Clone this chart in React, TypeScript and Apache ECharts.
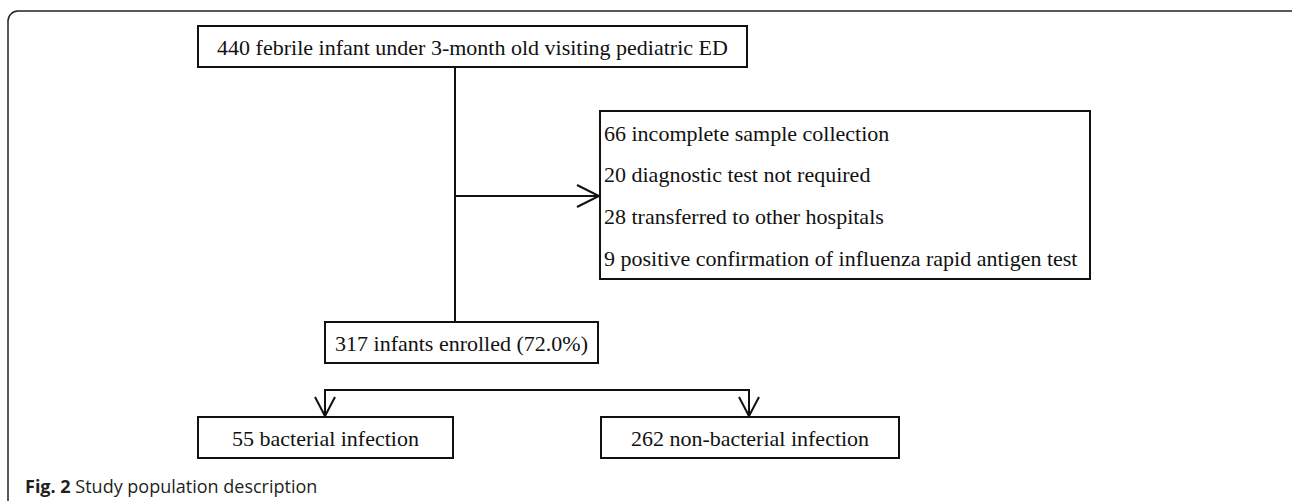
import React, { useEffect, useRef } from "react";
import * as echarts from "echarts";

const topLabel = "440 febrile infant under 3-month old visiting pediatric ED";
const exclusionLabels = [
  "66 incomplete sample collection",
  "20 diagnostic test not required",
  "28 transferred to other hospitals",
  "9 positive confirmation of influenza rapid antigen test",
];
const enrolledLabel = "317 infants enrolled (72.0%)";
const outcomeLabels = ["55 bacterial infection", "262 non-bacterial infection"];
const captionBold = "Fig. 2";
const captionText = " Study population description";

const SERIF = '22px "Liberation Serif", "Times New Roman", serif';
const INK = "#111";

function box(x: number, y: number, w: number, h: number) {
  return {
    type: "rect",
    shape: { x, y, width: w, height: h },
    style: { fill: "#fff", stroke: INK, lineWidth: 2 },
  };
}
function centerText(text: string, x: number, y: number) {
  return {
    type: "text",
    style: { text, x, y, font: SERIF, fill: INK, align: "center", verticalAlign: "middle" },
  };
}
function leftText(text: string, x: number, y: number) {
  return {
    type: "text",
    style: { text, x, y, font: SERIF, fill: INK, align: "left", verticalAlign: "middle" },
  };
}
function line(points: number[][]) {
  return {
    type: "polyline",
    shape: { points },
    style: { fill: "none", stroke: INK, lineWidth: 2 },
  };
}

export default function App() {
  const ref = useRef<HTMLDivElement>(null);
  useEffect(() => {
    if (!ref.current) return;
    const chart = echarts.init(ref.current, null, { renderer: "svg" });
    const elements: any[] = [];
    // outer frame
    elements.push({
      type: "rect",
      shape: { x: 8, y: 11, width: 1300, height: 620, r: 10 },
      style: { fill: "none", stroke: "#222", lineWidth: 1.5 },
    });
    // top box
    elements.push(box(198, 26, 549, 41));
    elements.push(centerText(topLabel, 472.5, 47));
    // main vertical line
    elements.push(line([[455, 67], [455, 322]]));
    // branch to exclusion box
    elements.push(line([[455, 196], [599, 196]]));
    elements.push(line([[577, 185], [599, 196], [577, 207]]));
    // exclusion box
    elements.push(box(600, 111, 490, 168));
    exclusionLabels.forEach((t, i) => {
      elements.push(leftText(t, 604, 133 + i * 41.7));
    });
    // enrolled box
    elements.push(box(325, 322, 273, 41));
    elements.push(centerText(enrolledLabel, 461.5, 343));
    // split
    elements.push(line([[325, 416], [325, 390], [749, 390], [749, 416]]));
    elements.push(line([[315, 397], [325, 416], [335, 397]]));
    elements.push(line([[739, 397], [749, 416], [759, 397]]));
    // outcome boxes
    elements.push(box(198, 417, 255, 41));
    elements.push(centerText(outcomeLabels[0], 325.5, 438));
    elements.push(box(601, 417, 298, 41));
    elements.push(centerText(outcomeLabels[1], 750, 438));
    // caption
    elements.push({
      type: "text",
      style: {
        text: "{b|" + captionBold + "}{r|" + captionText + "}",
        x: 25,
        y: 486,
        fill: "#231f20",
        verticalAlign: "middle",
        rich: {
          b: { fontWeight: "bold", fontSize: 18, fontFamily: '"Open Sans", sans-serif', fill: "#231f20" },
          r: { fontWeight: "normal", fontSize: 18, fontFamily: '"Open Sans", sans-serif', fill: "#231f20" },
        },
      },
    });
    chart.setOption({ animation: false, graphic: { elements } });
    return () => chart.dispose();
  }, []);
  return (
    <div
      ref={ref}
      style={{ position: "fixed", left: 0, top: 0, width: 1292, height: 501, background: "#fff" }}
    />
  );
}
